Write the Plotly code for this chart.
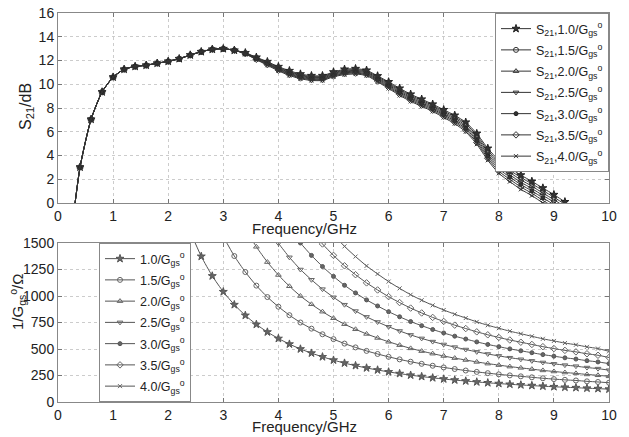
import plotly.graph_objects as go

# ---------------- data: top panel (S21 in dB) ----------------
freq_s21 = [0.2, 0.4, 0.6, 0.8, 1.0, 1.2, 1.4, 1.6, 1.8, 2.0, 2.2, 2.4, 2.6, 2.8, 3.0, 3.2,
            3.4, 3.6, 3.8, 4.0, 4.2, 4.4, 4.6, 4.8, 5.0, 5.2, 5.4, 5.6, 5.8, 6.0, 6.2, 6.4,
            6.6, 6.8, 7.0, 7.2, 7.4, 7.6, 7.8, 8.0, 8.2, 8.4, 8.6, 8.8, 9.0, 9.2, 9.4]
s21_common = [-4.2, 3.02, 7.05, 9.35, 10.6, 11.26, 11.5, 11.6, 11.77, 11.93, 12.15, 12.46,
              12.74, 12.94, 12.99, 12.86]
s21_10 = [12.65, 12.27, 11.90, 11.48, 11.14, 10.86, 10.72, 10.72, 11.03, 11.26, 11.31, 11.18,
          10.70, 10.20, 9.66, 9.16, 8.74, 8.32, 7.85, 7.38, 6.80, 5.85, 4.60, 3.60, 2.95, 2.35,
          1.82, 1.26, 0.70, 0.10, -0.50]
s21_15 = [12.63, 12.24, 11.85, 11.42, 11.07, 10.79, 10.65, 10.65, 10.96, 11.18, 11.23, 11.10,
          10.62, 10.11, 9.56, 9.06, 8.64, 8.22, 7.74, 7.26, 6.67, 5.70, 4.43, 3.42, 2.76, 2.15,
          1.62, 1.05, 0.49, -0.11, -0.71]
s21_20 = [12.62, 12.20, 11.80, 11.36, 11.01, 10.73, 10.59, 10.59, 10.90, 11.11, 11.16, 11.03,
          10.53, 10.02, 9.46, 8.96, 8.54, 8.12, 7.63, 7.15, 6.53, 5.55, 4.27, 3.23, 2.57, 1.95,
          1.42, 0.84, 0.28, -0.32, -0.92]
s21_25 = [12.60, 12.17, 11.75, 11.31, 10.94, 10.66, 10.52, 10.52, 10.83, 11.04, 11.09, 10.96,
          10.45, 9.93, 9.36, 8.86, 8.44, 8.02, 7.53, 7.03, 6.40, 5.40, 4.10, 3.05, 2.38, 1.75,
          1.22, 0.64, 0.08, -0.53]
s21_30 = [12.58, 12.14, 11.70, 11.25, 10.87, 10.59, 10.45, 10.45, 10.76, 10.96, 11.01, 10.88,
          10.37, 9.83, 9.26, 8.76, 8.34, 7.92, 7.42, 6.91, 6.27, 5.25, 3.93, 2.87, 2.18, 1.55,
          1.02, 0.43, -0.13]
s21_35 = [12.57, 12.10, 11.65, 11.19, 10.81, 10.53, 10.39, 10.39, 10.70, 10.89, 10.94, 10.81,
          10.28, 9.74, 9.16, 8.66, 8.24, 7.82, 7.31, 6.80, 6.13, 5.10, 3.77, 2.68, 1.99, 1.35,
          0.82, 0.22, -0.34]
s21_40 = [12.55, 12.07, 11.60, 11.13, 10.74, 10.46, 10.32, 10.32, 10.63, 10.81, 10.86, 10.73,
          10.20, 9.65, 9.06, 8.56, 8.14, 7.72, 7.20, 6.68, 6.00, 4.95, 3.60, 2.50, 1.80, 1.15,
          0.62, 0.01, -0.55]

# ---------------- data: bottom panel (1/Ggs in Ohm) ----------------
freq_g = [2.4, 2.6, 2.8, 3.0, 3.2, 3.4, 3.6, 3.8, 4.0, 4.2, 4.4, 4.6, 4.8, 5.0, 5.2, 5.4,
          5.6, 5.8, 6.0, 6.2, 6.4, 6.6, 6.8, 7.0, 7.2, 7.4, 7.6, 7.8, 8.0, 8.2, 8.4, 8.6,
          8.8, 9.0, 9.2, 9.4, 9.6, 9.8, 10.0]
g_10 = [1607, 1374, 1189, 1040, 918, 817, 732, 660, 599, 546, 500, 461, 426, 395, 367, 343,
        321, 302, 284, 268, 253, 240, 228, 217, 207, 198, 189, 181, 174, 167, 161, 155,
        149, 144, 139, 135, 130, 126, 121]
g_15 = [1560, 1377, 1226, 1098, 990, 899, 819, 750, 692, 639, 593, 551, 515, 482, 453,
        426, 402, 380, 360, 342, 326, 311, 297, 284, 272, 261, 251, 242, 233, 224, 216,
        209, 203, 195, 189, 182]
g_20 = [1634, 1464, 1320, 1198, 1092, 1000, 922, 852, 790, 734, 686, 642, 604, 568, 536,
        506, 480, 456, 434, 414, 396, 378, 362, 348, 334, 322, 310, 298, 288, 278, 270,
        260, 252, 242]
g_25 = [1650, 1498, 1365, 1250, 1153, 1065, 988, 918, 858, 803, 755, 710, 670, 633, 600,
        570, 543, 518, 495, 473, 453, 435, 418, 403, 388, 373, 360, 348, 338, 325, 315, 300]
g_30 = [1638, 1500, 1383, 1278, 1185, 1101, 1029, 963, 906, 852, 804, 759, 720, 684, 651,
        621, 594, 567, 543, 522, 501, 483, 465, 447, 432, 417, 405, 390, 378, 362]
g_35 = [1614, 1491, 1383, 1285, 1201, 1124, 1057, 994, 938, 886, 840, 798, 760, 725, 693,
        662, 634, 609, 585, 564, 543, 522, 504, 487, 473, 455, 441, 420]
g_40 = [1580, 1468, 1372, 1284, 1208, 1136, 1072, 1012, 960, 912, 868, 828, 792, 756, 724,
        696, 668, 644, 620, 596, 576, 556, 540, 520, 504, 478]

labels = ["1.0", "1.5", "2.0", "2.5", "3.0", "3.5", "4.0"]
s21_tails = [s21_10, s21_15, s21_20, s21_25, s21_30, s21_35, s21_40]
g_series = [g_10, g_15, g_20, g_25, g_30, g_35, g_40]

symbols = ["star", "circle-open", "triangle-up-open", "triangle-down-open", "circle",
           "diamond-open", "x-thin-open"]
sizes = [6, 5, 5, 5, 4, 5, 4]

FONT = "Liberation Sans, Arial, Helvetica, sans-serif"
fig = go.Figure()

for i, lab in enumerate(labels):
    ys = s21_common + s21_tails[i]
    xs = freq_s21[:len(ys)]
    fig.add_trace(go.Scatter(
        x=xs, y=ys, mode="lines+markers", xaxis="x", yaxis="y",
        name="S<sub>21</sub>," + lab + "/G<sub>gs</sub><sup>o</sup>",
        legendgroup="top" + lab,
        line=dict(color="#333333", width=1, shape="spline", smoothing=0.6),
        marker=dict(symbol=symbols[i], size=sizes[i], color="#333333",
                    line=dict(color="#222222", width=1)),
        legend="legend"))

n = len(freq_g)
for i, lab in enumerate(labels):
    ys = g_series[i]
    xs = freq_g[n - len(ys):]
    fig.add_trace(go.Scatter(
        x=xs, y=ys, mode="lines+markers", xaxis="x2", yaxis="y2",
        name=lab + "/G<sub>gs</sub><sup>o</sup>",
        legendgroup="bot" + lab,
        line=dict(color="#555555", width=1, shape="spline", smoothing=0.6),
        marker=dict(symbol=symbols[i], size=sizes[i], color="#666666",
                    line=dict(color="#555555", width=1)),
        legend="legend2"))

axis_common = dict(
    showline=True, linecolor="#888888", linewidth=1, mirror="ticks",
    ticks="inside", ticklen=4, tickcolor="#777777", automargin=False,
    ticklabeloverflow="allow",
    showgrid=True, gridcolor="#cccccc", griddash="dot", gridwidth=1,
    zeroline=False, tickfont=dict(family=FONT, size=14, color="#222222"),
)

# page offset of the figure inside the browser page (default body margin)
OFF = 8
PLOT_L, PLOT_R, PLOT_T, PLOT_B = 58, 609, 13, 402   # target plot area on the page

def px_y(p):
    return (PLOT_B - p) / float(PLOT_B - PLOT_T)

def px_x(q):
    return (q - PLOT_L) / float(PLOT_R - PLOT_L)

W, H = 629 - OFF, 437 - OFF

annotations = [
    dict(text="Frequency/GHz", x=px_x(304), y=px_y(229), xref="paper", yref="paper",
         showarrow=False, font=dict(family=FONT, size=15, color="#222222"),
         xanchor="center", yanchor="middle"),
    dict(text="Frequency/GHz", x=px_x(304), y=px_y(426), xref="paper", yref="paper",
         showarrow=False, font=dict(family=FONT, size=15, color="#222222"),
         xanchor="center", yanchor="middle"),
    dict(text="S<sub>21</sub>/dB", x=px_x(27), y=px_y(107), xref="paper", yref="paper",
         showarrow=False, textangle=-90, font=dict(family=FONT, size=16, color="#222222"),
         xanchor="center", yanchor="middle"),
    dict(text="1/G<sub>gs</sub><sup>o</sup>/Ω", x=px_x(17), y=px_y(302), xref="paper",
         yref="paper", showarrow=False, textangle=-90,
         font=dict(family=FONT, size=15, color="#222222"),
         xanchor="center", yanchor="middle"),
]

fig.update_layout(
    width=W, height=H,
    margin=dict(l=PLOT_L - OFF, r=W - (PLOT_R - OFF), t=PLOT_T - OFF,
                b=H - (PLOT_B - OFF), autoexpand=False),
    paper_bgcolor="white", plot_bgcolor="white",
    font=dict(family=FONT, color="#222222"),
    xaxis=dict(domain=[0, 1], anchor="y", range=[0, 10], dtick=1, **axis_common),
    yaxis=dict(domain=[px_y(203), 1], anchor="x", range=[0, 16], dtick=2, **axis_common),
    xaxis2=dict(domain=[0, 1], anchor="y2", range=[0, 10], dtick=1, **axis_common),
    yaxis2=dict(domain=[0, px_y(243)], anchor="x2", range=[0, 1500], dtick=250,
                **axis_common),
    annotations=annotations,
    legend=dict(x=1, y=1, xanchor="right", yanchor="top", bgcolor="white",
                bordercolor="#888888", borderwidth=1,
                font=dict(family=FONT, size=12.5, color="#222222"), tracegroupgap=2,
                itemwidth=30),
    legend2=dict(x=px_x(99), y=px_y(243), xanchor="left", yanchor="top", bgcolor="white",
                 bordercolor="#888888", borderwidth=1,
                 font=dict(family=FONT, size=12.5, color="#222222"), tracegroupgap=2,
                 itemwidth=30),
)

fig.write_html("out.html")
